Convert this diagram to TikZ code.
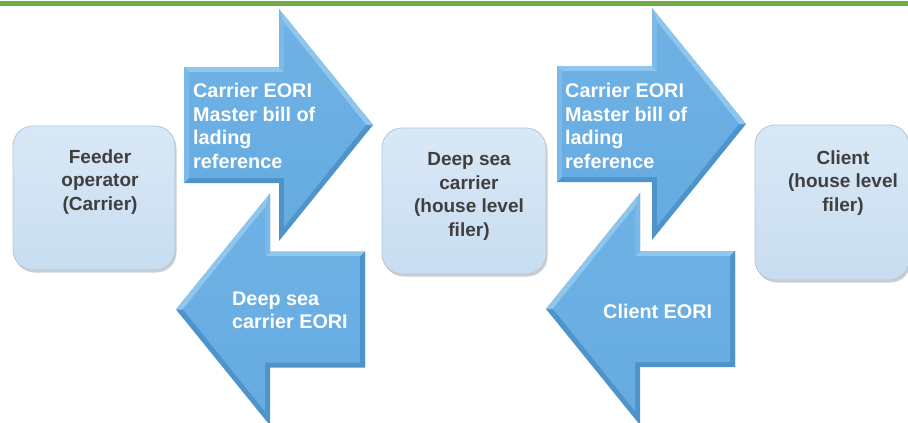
\documentclass[tikz,border=0pt]{standalone}
\usepackage{fontspec}
\setmainfont{Liberation Sans}
\usetikzlibrary{shadows}
\definecolor{topgreen}{HTML}{70AD47}
\definecolor{arrtop}{HTML}{6EB1E5}
\definecolor{arrbot}{HTML}{66ACE1}
\definecolor{arrlight}{HTML}{8FC6EE}
\definecolor{arrmid}{HTML}{7AB9E9}
\definecolor{arrdark}{HTML}{4F93CB}
\definecolor{boxtop}{HTML}{D9E8F6}
\definecolor{boxbot}{HTML}{C8DDF0}
\definecolor{boxrim}{HTML}{AFC7DD}
\definecolor{boxtext}{HTML}{3F3F3F}
\newcommand\bevelArrow[3]{%
\begin{scope}[shift={#1}, xscale=#2]
 \fill[arrdark] (-95,-58) -- (0,-58) -- (0,-116) -- (94,0) -- (0,116) -- (0,58) -- (-95,58) -- cycle;
 \fill[arrlight] (-95,-58) -- (0,-58) -- (5,-53) -- (-90,-53) -- cycle;
 \fill[arrmid] (0,-58) -- (0,-116) -- (5,-102) -- (5,-53) -- cycle;
 \fill[arrlight] (0,-116) -- (94,0) -- (87,0) -- (5,-102) -- cycle;
 \fill[#3] (-95,-58) -- (-90,-53) -- (-90,53) -- (-95,58) -- cycle;
 \shade[top color=arrtop, bottom color=arrbot] (-90,-53) -- (5,-53) -- (5,-102) -- (87,0) -- (5,102) -- (5,53) -- (-90,53) -- cycle;
\end{scope}}
\tikzset{
  x=1pt, y=-1pt,
  bluebox/.style={rectangle, rounded corners=20pt, draw=boxrim, line width=0.8pt,
    top color=boxtop, bottom color=boxbot,
    drop shadow={shadow xshift=1.5pt, shadow yshift=-2.5pt, opacity=0.35, fill=black!55}},
  boxlabel/.style={font=\fontsize{19}{23.5}\selectfont\bfseries, text=boxtext, align=center, anchor=base, inner sep=0pt},
  arrlabel/.style={font=\fontsize{19.8}{23.5}\selectfont\bfseries, text=white, align=left, anchor=base west, inner sep=0pt}
}
\begin{document}
\begin{tikzpicture}
\useasboundingbox (0,0) rectangle (908,423);
\fill[topgreen] (0,1) rectangle (908,5.5);
% boxes
\node[bluebox, minimum width=162pt, minimum height=144pt] (feeder) at (94,198) {};
\node[bluebox, minimum width=164pt, minimum height=146pt] (deepsea) at (464,201) {};
\node[bluebox, minimum width=154pt, minimum height=155pt] (client) at (832,202.5) {};
% labels: anchor base = baseline of last line
\node[boxlabel] (feedertxt) at (100,210) {Feeder\\operator\\(Carrier)};
\node[boxlabel] (deepseatxt) at (469,236) {Deep sea\\carrier\\(house level\\filer)};
\node[boxlabel] (clienttxt) at (843,211) {Client\\(house level\\filer)};
% arrows
\bevelArrow{(279,125)}{1}{arrmid}
\bevelArrow{(652,124)}{1}{arrmid}
\bevelArrow{(270,309.5)}{-1}{arrdark}
\bevelArrow{(640,309)}{-1}{arrdark}
\node[arrlabel] (a1txt) at (193,168) {Carrier EORI\\Master bill of\\lading\\reference};
\node[arrlabel] (a3txt) at (565,168) {Carrier EORI\\Master bill of\\lading\\reference};
\node[arrlabel] (a2txt) at (232,328.5) {Deep sea\\carrier EORI};
\node[arrlabel] (a4txt) at (603,318) {Client EORI};
\end{tikzpicture}
\end{document}
